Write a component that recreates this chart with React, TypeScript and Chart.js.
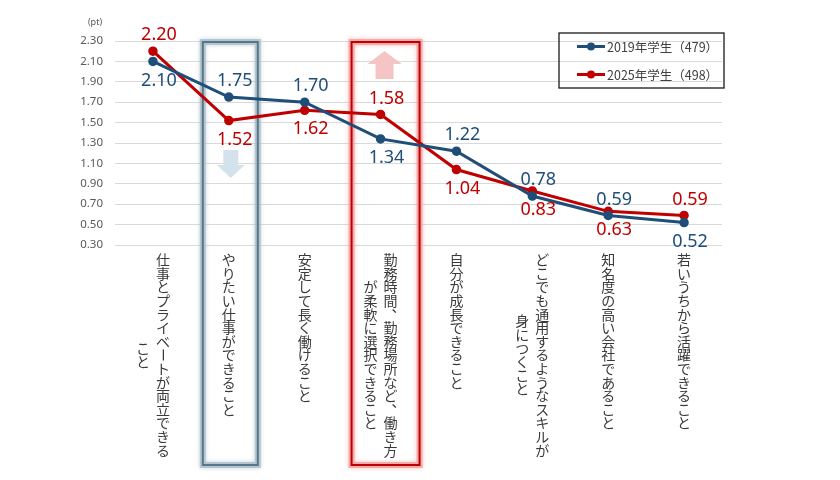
import React, { useEffect, useRef } from "react";
import { Chart, registerables } from "chart.js";

Chart.register(...registerables);

// ---- data ----
const categories: string[][] = [
  ["仕事とプライベートが両立できる", "こと"],
  ["やりたい仕事ができること"],
  ["安定して長く働けること"],
  ["勤務時間、勤務場所など、働き方", "が柔軟に選択できること"],
  ["自分が成長できること"],
  ["どこでも通用するようなスキルが", "身につくこと"],
  ["知名度の高い会社であること"],
  ["若いうちから活躍できること"],
];
const series2019: number[] = [2.1, 1.75, 1.7, 1.34, 1.22, 0.78, 0.59, 0.52];
const series2025: number[] = [2.2, 1.52, 1.62, 1.58, 1.04, 0.83, 0.63, 0.59];
const seriesLabels: string[] = ["2019年学生（479）", "2025年学生（498）"];
const yMin = 0.3;
const yMax = 2.3;
const yStep = 0.2;
const unitLabel = "(pt)";

// label placement (above / below the point)
const place2019: string[] = ["below", "above", "above", "below", "above", "above", "above", "below"];
const place2025: string[] = ["above", "below", "below", "above", "below", "below", "below", "above"];

const BLUE = "#1f4e79";
const RED = "#c00000";

const decorPlugin = {
  id: "decor",
  beforeDatasetsDraw(chart: any) {
    const ctx = chart.ctx;
    const xs = chart.scales.x;
    const ca = chart.chartArea;
    const drawBox = (l: number, t: number, r: number, b: number, stroke: string, glow: string) => {
      ctx.save();
      ctx.strokeStyle = glow;
      ctx.lineWidth = 6;
      ctx.shadowColor = glow;
      ctx.shadowBlur = 4;
      ctx.strokeRect(l, t, r - l, b - t);
      ctx.restore();
      ctx.save();
      ctx.strokeStyle = stroke;
      ctx.lineWidth = 2;
      ctx.strokeRect(l, t, r - l, b - t);
      ctx.restore();
    };
    const c1 = xs.getPixelForValue(1);
    const c3 = xs.getPixelForValue(3);
    drawBox(c1 - 26, ca.top + 1, c1 + 29, ca.bottom + 220, "#56778b", "rgba(170,190,200,0.8)");
    drawBox(c3 - 29, ca.top + 1, c3 + 39, ca.bottom + 220, RED, "rgba(240,160,160,0.8)");

    // down arrow (blue)
    ctx.save();
    ctx.fillStyle = "#d4e3eb";
    let ax = c1 + 2;
    ctx.beginPath();
    ctx.moveTo(ax - 7.5, ca.top + 109);
    ctx.lineTo(ax + 7.5, ca.top + 109);
    ctx.lineTo(ax + 7.5, ca.top + 124);
    ctx.lineTo(ax + 14, ca.top + 124);
    ctx.lineTo(ax, ca.top + 137);
    ctx.lineTo(ax - 14, ca.top + 124);
    ctx.lineTo(ax - 7.5, ca.top + 124);
    ctx.closePath();
    ctx.fill();
    // up arrow (red)
    ctx.fillStyle = "#f5c4c4";
    ax = c3 + 4;
    ctx.beginPath();
    ctx.moveTo(ax, ca.top + 10);
    ctx.lineTo(ax + 17, ca.top + 23);
    ctx.lineTo(ax + 9, ca.top + 23);
    ctx.lineTo(ax + 9, ca.top + 38);
    ctx.lineTo(ax - 9, ca.top + 38);
    ctx.lineTo(ax - 9, ca.top + 23);
    ctx.lineTo(ax - 17, ca.top + 23);
    ctx.closePath();
    ctx.fill();
    ctx.restore();
  },
  afterDatasetsDraw(chart: any) {
    const ctx = chart.ctx;
    ctx.save();
    ctx.font = '18px "Noto Sans"';
    ctx.textAlign = "center";
    ctx.textBaseline = "middle";
    const sets = [
      { idx: 0, vals: series2019, place: place2019, color: BLUE },
      { idx: 1, vals: series2025, place: place2025, color: RED },
    ];
    sets.forEach((s) => {
      const meta = chart.getDatasetMeta(s.idx);
      ctx.fillStyle = s.color;
      meta.data.forEach((pt: any, i: number) => {
        const dy = s.place[i] === "above" ? -16 : 19;
        ctx.fillText(s.vals[i].toFixed(2), pt.x + 6, pt.y + dy);
      });
    });
    ctx.restore();
  },
  afterDraw(chart: any) {
    const ctx = chart.ctx;
    const xs = chart.scales.x;
    const ca = chart.chartArea;
    ctx.save();
    // unit label
    ctx.font = '9px "Noto Sans"';
    ctx.fillStyle = "#595959";
    ctx.textAlign = "center";
    ctx.textBaseline = "middle";
    ctx.fillText(unitLabel, ca.left - 20, ca.top - 19);

    // vertical category labels
    ctx.font = '14px "Noto Sans CJK JP"';
    ctx.fillStyle = "#3a3a3a";
    const step = 13.6;
    const colGap = 20;
    const top = ca.bottom + 8;
    categories.forEach((lines, i) => {
      const cx = xs.getPixelForValue(i);
      const maxLen = Math.max(...lines.map((l) => [...l].length));
      lines.forEach((line, j) => {
        const chars = [...line];
        const x = cx + ((lines.length - 1) / 2 - j) * colGap;
        const y0 = top + ((maxLen - chars.length) * step) / 2;
        chars.forEach((ch, k) => {
          const y = y0 + (k + 0.5) * step;
          if (ch === "ー") {
            ctx.save();
            ctx.translate(x, y);
            ctx.rotate(Math.PI / 2);
            ctx.fillText(ch, 0, 0);
            ctx.restore();
          } else if (ch === "、") {
            ctx.fillText(ch, x + 8, y - 8);
          } else {
            ctx.fillText(ch, x, y);
          }
        });
      });
    });

    // legend
    const lx = ca.right - 163;
    const ly = ca.top - 8;
    ctx.strokeStyle = "#1a1a1a";
    ctx.lineWidth = 1.3;
    ctx.strokeRect(lx, ly, 165, 55);
    const colors = [BLUE, RED];
    ctx.font = '12.5px "Noto Sans CJK JP"';
    ctx.textAlign = "left";
    colors.forEach((c, k) => {
      const y = ly + 13.5 + k * 28;
      ctx.strokeStyle = c;
      ctx.lineWidth = 3;
      ctx.beginPath();
      ctx.moveTo(lx + 18, y);
      ctx.lineTo(lx + 46, y);
      ctx.stroke();
      ctx.fillStyle = c;
      ctx.beginPath();
      ctx.arc(lx + 32, y, 4, 0, Math.PI * 2);
      ctx.fill();
      ctx.fillStyle = "#404040";
      ctx.fillText(seriesLabels[k], lx + 48, y + 0.5);
    });
    ctx.restore();
  },
};

export default function App() {
  const ref = useRef<HTMLCanvasElement | null>(null);
  useEffect(() => {
    if (!ref.current) return;
    const chart = new Chart(ref.current, {
      type: "line",
      data: {
        labels: categories.map((c) => c.join("")),
        datasets: [
          {
            label: seriesLabels[0],
            data: series2019,
            borderColor: BLUE,
            backgroundColor: BLUE,
            borderWidth: 3,
            pointRadius: 4,
            pointBorderWidth: 1.5,
            pointBackgroundColor: BLUE,
            pointBorderColor: BLUE,
            tension: 0,
          },
          {
            label: seriesLabels[1],
            data: series2025,
            borderColor: RED,
            backgroundColor: RED,
            borderWidth: 3,
            pointRadius: 4,
            pointBorderWidth: 1.5,
            pointBackgroundColor: RED,
            pointBorderColor: RED,
            tension: 0,
          },
        ],
      },
      options: {
        animation: false,
        responsive: true,
        maintainAspectRatio: false,
        layout: { padding: { left: 0, top: 41, right: 118, bottom: 0 } },
        plugins: {
          legend: { display: false },
          tooltip: { enabled: false },
        },
        scales: {
          x: {
            type: "category",
            offset: true,
            grid: { display: false },
            border: { display: false },
            ticks: { display: false },
            afterFit: (s: any) => {
              s.height = 235;
            },
          },
          y: {
            min: yMin,
            max: yMax,
            grid: { color: "#d9d9d9", lineWidth: 1, drawTicks: false },
            border: { display: false },
            ticks: {
              stepSize: yStep,
              padding: 12,
              color: "#595959",
              font: { family: "Noto Sans", size: 11.5 },
              callback: (v: any) => Number(v).toFixed(2),
            },
            afterFit: (s: any) => {
              s.width = 115;
            },
          },
        },
      },
      plugins: [decorPlugin],
    });
    return () => chart.destroy();
  }, []);
  return (
    <div style={{ position: "fixed", left: 0, top: 0, width: 840, height: 480, background: "#fff" }}>
      <canvas ref={ref} />
    </div>
  );
}
